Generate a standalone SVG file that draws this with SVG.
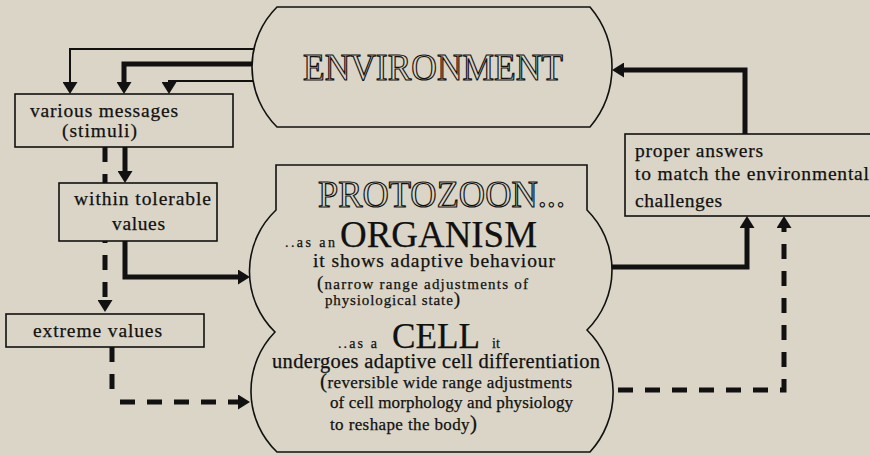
<svg xmlns="http://www.w3.org/2000/svg" width="870" height="456" viewBox="0 0 870 456">
  <style>
    .bg { fill: #dad5c6; }
    .box { fill: #dad5c6; stroke: #111; stroke-width: 1.6; }
    .t { font-family: "Liberation Serif", "Times New Roman", serif; fill: #111; stroke: #111; stroke-width: 0.25; }
    .outline { font-family: "Liberation Serif", "Times New Roman", serif; fill: #dad5c6; stroke: #111; stroke-width: 1.2; }
    .thin { fill: none; stroke: #111; stroke-width: 2; }
    .thick { fill: none; stroke: #111; stroke-width: 5; }
    .dash { fill: none; stroke: #111; stroke-width: 5; stroke-dasharray: 15 12; }
  </style>
  <defs>
    <marker id="ah" viewBox="0 -7.5 12 15" refX="3" refY="0" markerWidth="12" markerHeight="15" markerUnits="userSpaceOnUse" orient="auto">
      <path d="M0 -7.5 L12 0 L0 7.5 Z" fill="#111"/>
    </marker>
  </defs>

  <rect class="bg" x="0" y="0" width="870" height="456"/>

  <!-- connectors -->
  <g id="connectors">
    <path class="thin" d="M254 49 H70 V85" marker-end="url(#ah)"/>
    <path class="thick" d="M252 64 H124 V85" marker-end="url(#ah)"/>
    <path class="thin" d="M254 81 H169 V85" marker-end="url(#ah)"/>
    <path class="thick" d="M125 147 V174" marker-end="url(#ah)"/>
    <path class="dash" d="M105 147 V303" marker-end="url(#ah)"/>
    <path class="thick" d="M125 241 V277 H241" marker-end="url(#ah)"/>
    <path class="dash" d="M112 347 V396 M120 402 H241" marker-end="url(#ah)"/>
    <path class="thick" d="M610 267 H747 V225" marker-end="url(#ah)"/>
    <path class="dash" d="M618 390 H784 V225" marker-end="url(#ah)"/>
    <path class="thick" d="M745 134 V70 H621" marker-end="url(#ah)"/>
  </g>

  <!-- environment -->
  <g id="environment">
    <path class="box" d="M277 7 H590 A92.8 92.8 0 0 1 590 127 H277 A84.5 84.5 0 0 1 277 7 Z"/>
    <text class="outline" x="303" y="80" font-size="37" textLength="260" lengthAdjust="spacingAndGlyphs">ENVIRONMENT</text>
  </g>

  <!-- incoming stimuli -->
  <g id="messages">
    <rect class="box" x="15" y="94" width="218" height="53"/>
    <text class="t" x="30" y="117" font-size="19.5" textLength="148">various messages</text>
    <text class="t" x="62" y="137" font-size="19.5" textLength="75">(stimuli)</text>
  </g>

  <g id="tolerable">
    <rect class="box" x="59" y="183" width="158" height="58"/>
    <text class="t" x="74" y="205" font-size="19.5" textLength="137">within tolerable</text>
    <text class="t" x="112" y="230" font-size="19.5" textLength="53">values</text>
  </g>

  <g id="extreme">
    <rect class="box" x="6" y="314" width="198" height="33"/>
    <text class="t" x="33" y="337" font-size="19.5" textLength="129">extreme values</text>
  </g>

  <!-- the protozoon -->
  <g id="protozoon">
    <path class="box" d="M276 165 H587 V210 A84.5 84.5 0 0 1 587 330 A88 88 0 0 1 590 452 H277 A84.5 84.5 0 0 1 275 332 A84.5 84.5 0 0 1 276 210 Z"/>
    <text class="outline" x="318" y="207" font-size="37" textLength="247" lengthAdjust="spacingAndGlyphs">PROTOZOON...</text>
    <text class="t" x="285" y="247" font-size="14" textLength="50">..as an</text>
    <text class="t" x="340" y="247" font-size="37" textLength="197" lengthAdjust="spacingAndGlyphs">ORGANISM</text>
    <text class="t" x="313" y="267" font-size="19.5" textLength="242">it shows adaptive behaviour</text>
    <text class="t" x="317" y="289" font-size="15" textLength="211"><tspan font-size="19">(</tspan>narrow range adjustments of</text>
    <text class="t" x="325" y="305" font-size="15" textLength="135">physiological state<tspan font-size="19">)</tspan></text>
    <text class="t" x="338" y="348" font-size="14" textLength="39">..as a</text>
    <text class="t" x="392" y="348" font-size="35" textLength="88" lengthAdjust="spacingAndGlyphs">CELL</text>
    <text class="t" x="492" y="348" font-size="14">it</text>
    <text class="t" x="272" y="368" font-size="20.5" textLength="328">undergoes adaptive cell differentiation</text>
    <text class="t" x="320" y="388" font-size="17" textLength="252"><tspan font-size="21">(</tspan>reversible wide range adjustments</text>
    <text class="t" x="330" y="408" font-size="17" textLength="243">of cell morphology and physiology</text>
    <text class="t" x="330" y="430" font-size="17" textLength="147">to reshape the body<tspan font-size="21">)</tspan></text>
  </g>

  <!-- responses -->
  <g id="answers">
    <rect class="box" x="625" y="134" width="250" height="82"/>
    <text class="t" x="635" y="157" font-size="19.5" textLength="128">proper answers</text>
    <text class="t" x="635" y="180" font-size="19.5" textLength="234">to match the environmental</text>
    <text class="t" x="635" y="207" font-size="19.5" textLength="87">challenges</text>
  </g>
</svg>
